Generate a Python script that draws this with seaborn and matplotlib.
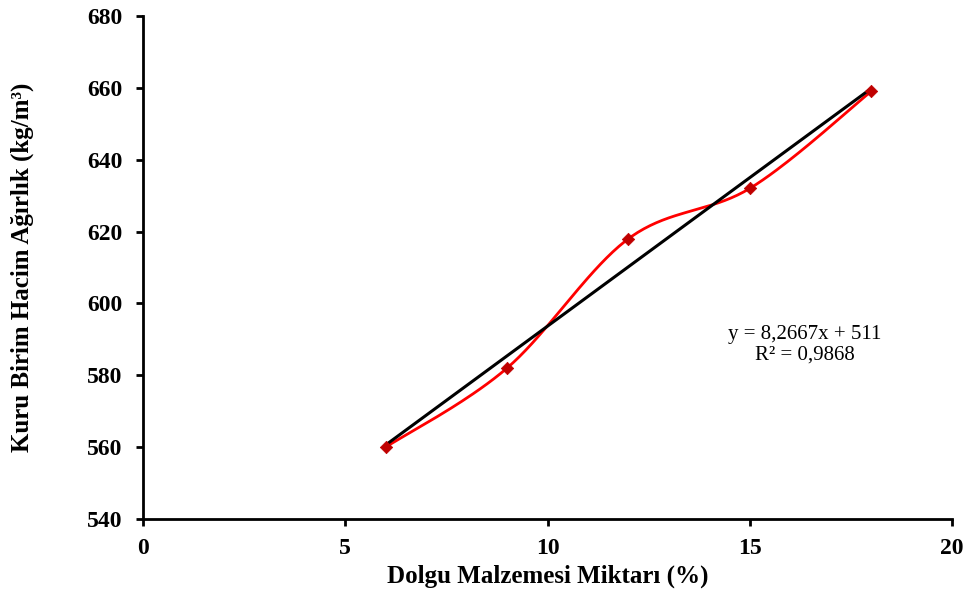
import numpy as np
import pandas as pd
import seaborn as sns
import matplotlib.pyplot as plt

# data
filler_pct = [6, 9, 12, 15, 18]
unit_weight = [560, 582, 618, 632, 659]
slope, intercept = 8.2667, 511
x_ticks = [0, 5, 10, 15, 20]
y_ticks = [540, 560, 580, 600, 620, 640, 660, 680]

df = pd.DataFrame({'x': filler_pct, 'y': unit_weight})


def smooth_curve(xs, ys, n=40):
    # Excel style smoothed line (Catmull-Rom through the points)
    xs = np.asarray(xs, float)
    ys = np.asarray(ys, float)
    px = np.concatenate([[xs[0]], xs, [xs[-1]]])
    py = np.concatenate([[ys[0]], ys, [ys[-1]]])
    out_x, out_y = [], []
    t = np.linspace(0, 1, n)
    for i in range(1, len(px) - 2):
        p0, p1, p2, p3 = [np.array([px[j], py[j]]) for j in range(i - 1, i + 3)]
        c1 = p1 + (p2 - p0) / 6
        c2 = p2 - (p3 - p1) / 6
        b = ((1 - t) ** 3)[:, None] * p1 + (3 * (1 - t) ** 2 * t)[:, None] * c1 \
            + (3 * (1 - t) * t ** 2)[:, None] * c2 + (t ** 3)[:, None] * p2
        out_x.extend(b[:, 0])
        out_y.extend(b[:, 1])
    return pd.DataFrame({'x': out_x, 'y': out_y})


sns.set_theme(style='ticks', rc={'axes.edgecolor': 'black', 'xtick.color': 'black',
                                 'ytick.color': 'black', 'text.color': 'black',
                                 'axes.labelcolor': 'black'})
plt.rcParams['font.family'] = ['Liberation Serif', 'DejaVu Serif']

fig, ax = plt.subplots(figsize=(9.68, 5.96), dpi=100)
fig.subplots_adjust(left=0.1477, right=0.9835, top=0.9732, bottom=0.1292)

curve = smooth_curve(filler_pct, unit_weight)
sns.lineplot(data=curve, x='x', y='y', sort=False, color='#FF0000', linewidth=2, ax=ax)

trend = pd.DataFrame({'x': [filler_pct[0], filler_pct[-1]]})
trend['y'] = slope * trend['x'] + intercept
sns.lineplot(data=trend, x='x', y='y', color='black', linewidth=2.2, ax=ax)

sns.scatterplot(data=df, x='x', y='y', marker='D', s=40, color='#C00000',
                edgecolor='#C00000', zorder=5, ax=ax)

ax.set_xlim(0, 20)
ax.set_ylim(540, 680)
ax.set_xticks(x_ticks)
ax.set_yticks(y_ticks)
ax.tick_params(axis='y', direction='out', length=5, width=2, labelsize=17, pad=10)
ax.tick_params(axis='x', direction='out', length=5, width=2, labelsize=17, pad=9)
for lbl in ax.get_xticklabels() + ax.get_yticklabels():
    lbl.set_fontweight('bold')
for side in ['left', 'bottom']:
    ax.spines[side].set_linewidth(2)
sns.despine(ax=ax)

ax.set_xlabel('Dolgu Malzemesi Miktarı (%)', fontsize=18, fontweight='bold', labelpad=4)
ax.set_ylabel('Kuru Birim Hacim Ağırlık (kg/m³)', fontsize=18, fontweight='bold', labelpad=38)

ax.text(16.37, 588.5, 'y = 8,2667x + 511\nR² = 0,9868', ha='center', va='center',
        fontsize=15, linespacing=1.15)

plt.savefig('out.png', dpi=100)
